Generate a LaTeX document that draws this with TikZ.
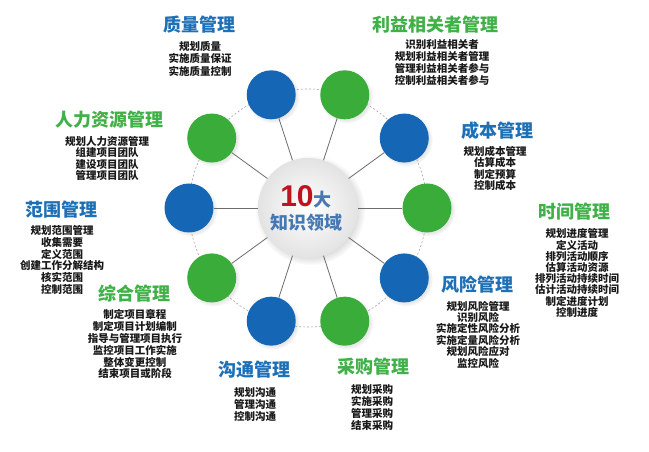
\documentclass[tikz,border=0pt]{standalone}
\usepackage{fontspec}
\setmainfont{Liberation Sans}
\newfontfamily\cjk{Noto Sans CJK SC}
\usetikzlibrary{shadows}
\definecolor{cblue}{RGB}{22,102,182}
\definecolor{cgreen}{RGB}{58,172,58}
\definecolor{tblue}{RGB}{30,112,182}
\definecolor{tgreen}{RGB}{64,176,72}
\definecolor{cred}{RGB}{190,20,30}
\definecolor{cbl}{RGB}{70,120,180}
\begin{document}
\begin{tikzpicture}[x=1pt,y=1pt,
  bub/.style={circle, minimum size=49pt, inner sep=0pt, draw=none,
    circular drop shadow={shadow xshift=1.5pt, shadow yshift=-1.5pt, opacity=0.18}},
  bb/.style={bub, fill=cblue},
  gb/.style={bub, fill=cgreen},
  spoke/.style={draw=gray!85!black, line width=0.8pt},
  ring/.style={draw=gray!70, dashed, dash pattern=on 2pt off 2pt, line width=0.6pt},
  ttl/.style={font=\cjk\bfseries\fontsize{18}{20}\selectfont, inner sep=0pt},
  tb/.style={ttl, text=tblue},
  tg/.style={ttl, text=tgreen},
  it/.style={font=\cjk\bfseries\fontsize{10.5}{#1}\selectfont, align=center, inner sep=0pt, text=black!90},
  it/.default=11.5
]
\fill[white] (0,0) rectangle (649,452);
\useasboundingbox (0,0) rectangle (649,452);

\begin{scope}[shift={(308,244)}]
  \draw[ring] (0,0) circle (119);
  \node[circle, minimum size=100pt, inner sep=0pt, inner color=white, outer color=gray!22,
        circular drop shadow={shadow xshift=2pt, shadow yshift=-2pt, opacity=0.25}] (c) at (0,0) {};
  \node[bb] (o1) at (108:119) {};
  \node[gb] (o2) at (72:119) {};
  \node[bb] (o3) at (36:119) {};
  \node[gb] (o4) at (0:119) {};
  \node[bb] (o5) at (-36:119) {};
  \node[gb] (o6) at (-72:119) {};
  \node[bb] (o7) at (-108:119) {};
  \node[gb] (o8) at (-144:119) {};
  \node[bb] (o9) at (180:119) {};
  \node[gb] (o10) at (144:119) {};
  \foreach \i in {1,...,10} { \draw[spoke] (c) -- (o\i); }
  \node[inner sep=0pt] (n10) at (-2,11) {\textcolor{cred}{\fontsize{30}{32}\selectfont\bfseries 10}\textcolor{cbl}{\cjk\bfseries\fontsize{18}{20}\selectfont 大}};
  \node[inner sep=0pt, text=cbl, font=\cjk\bfseries\fontsize{18}{20}\selectfont] (n11) at (-2,-15) {知识领域};
\end{scope}

\node[tb] (t1) at (199,427) {质量管理};
\node[it=12.5] (i1) at (200,393.5) {规划质量\\实施质量保证\\实施质量控制};

\node[tg] (t2) at (435,427) {利益相关者管理};
\node[it=12] (i2) at (442,389) {识别利益相关者\\规划利益相关者管理\\管理利益相关者参与\\控制利益相关者参与};

\node[tg] (t3) at (110,332) {人力资源管理};
\node[it=11.2] (i3) at (107,293.5) {规划人力资源管理\\组建项目团队\\建设项目团队\\管理项目团队};

\node[tb] (t4) at (497,321) {成本管理};
\node[it=11.2] (i4) at (495,283.5) {规划成本管理\\估算成本\\制定预算\\控制成本};

\node[tb] (t5) at (62,242) {范围管理};
\node[it=11.8] (i5) at (62,192) {规划范围管理\\收集需要\\定义范围\\创建工作分解结构\\核实范围\\控制范围};

\node[tg] (t6) at (574,240) {时间管理};
\node[it=11.2] (i6) at (577,179) {规划进度管理\\定义活动\\排列活动顺序\\估算活动资源\\排列活动持续时间\\估计活动持续时间\\制定进度计划\\控制进度};

\node[tg] (t7) at (134,158) {综合管理};
\node[it=11.8] (i7) at (135,107.5) {制定项目章程\\制定项目计划编制\\指导与管理项目执行\\监控项目工作实施\\整体变更控制\\结束项目或阶段};

\node[tb] (t8) at (477,167) {风险管理};
\node[it=11.4] (i8) at (478,117.5) {规划风险管理\\识别风险\\实施定性风险分析\\实施定量风险分析\\规划风险应对\\监控风险};

\node[tb] (t9) at (254,82) {沟通管理};
\node[it=12] (i9) at (255,47) {规划沟通\\管理沟通\\控制沟通};

\node[tg] (t10) at (373,85) {采购管理};
\node[it=12] (i10) at (372,44) {规划采购\\实施采购\\管理采购\\结束采购};
\end{tikzpicture}
\end{document}
